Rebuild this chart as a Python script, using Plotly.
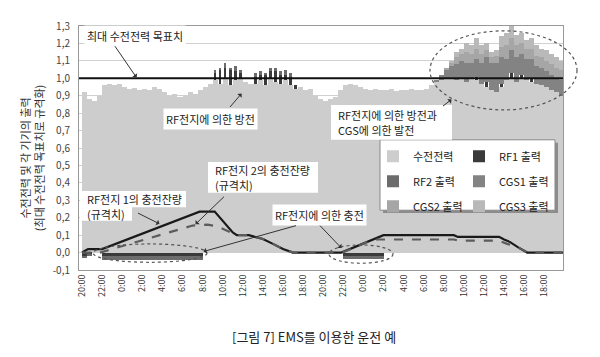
import numpy as np
import plotly.graph_objects as go

# ---------------- data ----------------
# 30-minute slots starting 20:00 on day 0 (96 slots = 48 h)
RECV = [0.92, 0.88, 0.87, 0.90, 0.96, 0.97, 0.96, 0.97,
        0.95, 0.94, 0.945, 0.93, 0.94, 0.935, 0.95, 0.94,
        0.92, 0.90, 0.91, 0.89, 0.90, 0.92, 0.91, 0.93,
        0.95, 0.97, 0.99, 0.97, 1.00, 0.96, 0.99, 1.00,
        0.98, 0.97, 0.97, 0.99, 0.96, 1.00, 0.98, 0.97,
        0.99, 0.96, 0.94, 0.95, 0.93, 0.94, 0.90, 0.88,
        0.87, 0.88, 0.89, 0.93, 0.96, 0.97, 0.96, 0.95,
        0.94, 0.93, 0.94, 0.935, 0.93, 0.94, 0.925, 0.935,
        0.93, 0.94, 0.93, 0.935, 0.94, 0.96, 0.98, 0.99,
        1.00, 1.00, 0.99, 1.00, 0.98, 1.00, 0.99, 0.97,
        0.95, 0.93, 0.92, 0.95, 0.99, 1.00, 0.98, 1.00,
        0.99, 0.98, 0.97, 0.96, 0.95, 0.93, 0.92, 0.90]

RF1 = [-0.02, -0.01, 0, 0, -0.02, -0.02, -0.02, -0.02,
       -0.02, -0.02, -0.02, -0.02, -0.02, -0.02, -0.02, -0.02,
       -0.02, -0.02, -0.02, -0.02, -0.02, -0.02, -0.02, -0.02,
       0, 0, 0.04, 0.08, 0.06, 0.09, 0.05, 0.03,
       0, 0, 0.04, 0.03, 0.06, 0.04, 0.06, 0.05,
       0.03, 0.05, 0.02, 0, 0, 0, 0, 0,
       0, 0, 0, 0, -0.02, -0.02, -0.02, -0.02,
       -0.02, -0.02, -0.02, -0.02, 0, 0, 0, 0,
       0, 0, 0, 0, 0, 0, 0, 0,
       0, 0, 0, 0, 0, 0, 0.02, 0,
       0.03, 0, 0, 0.02, 0, 0.03, 0, 0.02,
       0, 0.02, 0, 0, 0, 0, 0, 0]

RF2 = [-0.01, -0.01, 0, 0, -0.02, -0.02, -0.02, -0.02,
       -0.02, -0.02, -0.02, -0.02, -0.02, -0.02, -0.02, -0.02,
       -0.02, -0.02, -0.02, -0.02, -0.02, -0.02, -0.02, -0.02,
       0, 0, 0.02, 0.01, 0.03, 0.01, 0.03, 0.02,
       0, 0, 0.02, 0.02, 0.01, 0.02, 0.02, 0.02,
       0.03, 0.02, 0, 0, 0, 0, 0, 0,
       0, 0, 0, 0, -0.015, -0.015, -0.015, -0.015,
       -0.015, -0.015, -0.015, -0.015, 0, 0, 0, 0,
       0, 0, 0, 0, 0, 0, 0, 0,
       0, 0, 0, 0, 0, 0, 0, 0,
       0, 0, 0, 0, 0, 0, 0, 0,
       0, 0, 0, 0, 0, 0, 0, 0]

CGS1 = [0.0] * 64 + [
    0, 0, 0, 0, 0, 0, 0.01, 0.03,
    0.05, 0.07, 0.09, 0.10, 0.11, 0.09, 0.10, 0.12,
    0.14, 0.16, 0.17, 0.15, 0.12, 0.13, 0.14, 0.12,
    0.12, 0.11, 0.10, 0.10, 0.09, 0.09, 0.08, 0.09]

CGS2 = [0.0] * 72 + [
    0.01, 0.02, 0.04, 0.04, 0.06, 0.05, 0.06, 0.05,
    0.04, 0.03, 0.04, 0.06, 0.08, 0.07, 0.07, 0.06,
    0.06, 0.06, 0.06, 0.06, 0.06, 0.06, 0.06, 0.06]

CGS3 = [0.0] * 72 + [
    0.00, 0.01, 0.03, 0.03, 0.05, 0.05, 0.06, 0.05,
    0.04, 0.03, 0.03, 0.06, 0.07, 0.07, 0.06, 0.06,
    0.05, 0.06, 0.06, 0.05, 0.06, 0.06, 0.06, 0.05]

# state of charge (normalised), hours from 20:00 day 0
SOC1_H = [0, 0.6, 2.0, 11.7, 13.2, 14.4, 15.0, 15.4, 16.6, 17.2, 18.0, 19.0,
          20.0, 21.0, 25.8, 30.0, 37.0, 37.4, 41.5, 42.0, 42.6, 43.4, 44.3, 47.85]
SOC1_V = [0.0, 0.02, 0.02, 0.235, 0.235, 0.155, 0.115, 0.10, 0.10, 0.09, 0.078, 0.05,
          0.02, 0.0, 0.0, 0.10, 0.10, 0.09, 0.09, 0.075, 0.06, 0.03, 0.0, 0.0]
SOC2_H = [0, 1.8, 11.0, 12.5, 13.5, 14.5, 15.2, 15.4, 16.6, 17.2, 18.0, 19.0,
          20.0, 21.0, 25.9, 29.0, 37.0, 37.5, 41.5, 42.3, 43.4, 44.3, 47.85]
SOC2_V = [0.0, 0.0, 0.155, 0.16, 0.15, 0.125, 0.105, 0.10, 0.10, 0.09, 0.078, 0.05,
          0.02, 0.0, 0.0, 0.075, 0.075, 0.068, 0.068, 0.05, 0.03, 0.0, 0.0]

TARGET = 1.0

X_TICK_LABELS = ["20:00", "22:00", "0:00", "2:00", "4:00", "6:00", "8:00", "10:00",
                 "12:00", "14:00", "16:00", "18:00", "20:00", "22:00", "0:00", "2:00",
                 "4:00", "6:00", "8:00", "10:00", "12:00", "14:00", "16:00", "18:00"]
Y_TICK_VALS = [-0.1, 0.0, 0.1, 0.2, 0.3, 0.4, 0.5, 0.6, 0.7, 0.8, 0.9, 1.0, 1.1, 1.2, 1.3]
Y_TICK_TEXT = ["-0,1", "0,0", "0,1", "0,2", "0,3", "0,4", "0,5", "0,6", "0,7",
               "0,8", "0,9", "1,0", "1,1", "1,2", "1,3"]

SERIES_NAMES = ["수전전력", "RF1 출력", "RF2 출력", "CGS1 출력", "CGS2 출력", "CGS3 출력"]

# ---------------- figure ----------------
SLOT = 0.5
slot_x = np.arange(len(RECV)) * SLOT + SLOT / 2
tick_x = np.arange(len(X_TICK_LABELS)) * 2

# page body has an 8px margin: size the figure so it fits the 600x357 window
OFF = 8
W, H = 600 - 2 * OFF, 357 - 2 * OFF
PLOT_L, PLOT_R, PLOT_T, PLOT_B = 79, 563, 17, 270          # in window pixels
L, R = PLOT_L - OFF, W - (PLOT_R - OFF)
T, B = PLOT_T - OFF, H - (PLOT_B - OFF)
PW, PH = PLOT_R - PLOT_L, PLOT_B - PLOT_T


def PX(x):
    return (x - PLOT_L) / PW


def PY(y):
    return (PLOT_B - y) / PH


FONT = "Noto Sans CJK KR, Noto Sans, sans-serif"
colors = ["#cdcdcd", "#3a3a3a", "#6c6c6c", "#838383", "#a6a6a6", "#b9b9b9"]
series = [RECV, RF1, RF2, CGS1, CGS2, CGS3]
legends = ["legend", "legend2", "legend", "legend2", "legend", "legend2"]

fig = go.Figure()
for i, (name, vals, col, lg) in enumerate(zip(SERIES_NAMES, series, colors, legends)):
    if name.startswith("RF"):
        widths = [SLOT * 0.5 if v > 0 else SLOT for v in vals]
    else:
        widths = SLOT
    fig.add_trace(go.Bar(x=slot_x, y=vals, name=name, width=widths,
                         marker=dict(color=col, line=dict(width=0)),
                         legend=lg, legendgroup=f"g{i}", hoverinfo="skip"))

fig.add_trace(go.Scatter(x=SOC1_H, y=SOC1_V, mode="lines", showlegend=False,
                         line=dict(color="#1a1a1a", width=2.2)))
fig.add_trace(go.Scatter(x=SOC2_H, y=SOC2_V, mode="lines", showlegend=False,
                         line=dict(color="#5c5c5c", width=2.2, dash="dash")))

fig.add_hline(y=TARGET, line=dict(color="#111", width=2))

shapes = []


def rect(x0, x1, y0, y1, fill, line=None):
    shapes.append(dict(type="rect", xref="paper", yref="paper", x0=PX(x0), x1=PX(x1),
                       y0=PY(y1), y1=PY(y0), fillcolor=fill,
                       line=line or dict(width=0), layer="above"))


# dashed ellipses
for (x0, x1, y0, y1) in [(193, 302, 54, 89), (430, 577, 22, 104),
                         (93, 207, 243, 262), (329, 393, 244, 263)]:
    shapes.append(dict(type="circle", xref="paper", yref="paper",
                       x0=PX(x0), x1=PX(x1), y0=PY(y1), y1=PY(y0),
                       line=dict(color="#555", width=1.2, dash="dot"), layer="above"))
# legend box with shadow
rect(383, 558, 138, 211, "#8c8c8c")
rect(380, 555, 135, 208, "white", dict(color="#888", width=1))
# white backgrounds behind the two-line labels
rect(331, 452, 99, 135, "white")
rect(208, 318, 158, 190, "white")
rect(80, 186, 188, 205, "white")
rect(80, 132, 204, 219, "white")

ann = []


def text(t, x, y, size=11, bg=None):
    ann.append(dict(text=t, xref="paper", yref="paper", x=PX(x), y=PY(y),
                    showarrow=False, bgcolor=bg, borderpad=2, align="left",
                    xanchor="left", yanchor="middle",
                    font=dict(family=FONT, size=size, color="#222")))


def arrow(x0, y0, x1, y1):
    # anchored at the tail, head drawn at the (tiny, empty) text end
    ann.append(dict(text=" ", xref="paper", yref="paper", x=PX(x0), y=PY(y0),
                    ax=x1 - x0, ay=y1 - y0, showarrow=True, arrowside="start",
                    arrowhead=2, arrowsize=1, arrowwidth=1, arrowcolor="#333",
                    borderpad=0, font=dict(size=1)))


text("최대 수전전력 목표치", 84, 27, bg="white")
arrow(115, 38, 137, 70)
text("RF전지에 의한 방전", 163, 113, bg="white")
arrow(230, 101, 242, 87)
text("RF전지에 의한 방전과", 335, 109)
text("CGS에 의한 발전", 335, 125)
arrow(443, 100, 452, 93)
text("RF전지 2의 충전잔량", 212, 166)
text("(규격치)", 212, 182)
arrow(224, 194, 195, 222)
text("RF전지 1의 충전잔량", 84, 196)
text("(규격치)", 84, 212)
arrow(138, 211, 160, 222)
text("RF전지에 의한 충전", 272, 213, bg="white")
arrow(296, 224, 203, 250)
arrow(320, 224, 342, 247)

ann.append(dict(text="수전전력 및 각 기기의 출력<br>(최대 수전전력 목표치로 규격화)",
                xref="paper", yref="paper", x=PX(32), y=PY(154), textangle=-90,
                showarrow=False, xanchor="center", yanchor="middle",
                font=dict(family=FONT, size=11, color="#333")))
ann.append(dict(text="[그림 7] EMS를 이용한 운전 예", xref="paper", yref="paper",
                x=PX(314), y=PY(H + OFF + 1), showarrow=False, xanchor="center",
                yanchor="bottom", borderpad=0,
                font=dict(family=FONT, size=13, color="#222")))

leg_common = dict(orientation="v", bgcolor="rgba(0,0,0,0)", borderwidth=0,
                  tracegroupgap=6, yanchor="top", xanchor="left",
                  font=dict(family=FONT, size=11, color="#222"))

fig.update_layout(
    width=W, height=H, margin=dict(l=L, r=R, t=T, b=B),
    paper_bgcolor="white", plot_bgcolor="white",
    barmode="relative", bargap=0,
    font=dict(family=FONT, color="#333"),
    showlegend=True,
    legend=dict(x=PX(373), y=PY(137), **leg_common),
    legend2=dict(x=PX(459), y=PY(137), **leg_common),
    xaxis=dict(range=[-0.3, 47.86], tickmode="array", tickvals=tick_x,
               ticktext=X_TICK_LABELS, tickangle=-90, showgrid=False, zeroline=False,
               showline=True, linecolor="#999", mirror=True, ticks="",
               tickfont=dict(family=FONT, size=9, color="#333")),
    yaxis=dict(range=[-0.1, 1.3], tickmode="array", tickvals=Y_TICK_VALS,
               ticktext=Y_TICK_TEXT, showgrid=True, gridcolor="#d0d0d0", gridwidth=1,
               zeroline=False, showline=True, linecolor="#999", mirror=True,
               ticklabelstandoff=6,
               tickfont=dict(family=FONT, size=10, color="#444")),
    shapes=shapes, annotations=ann,
)

fig.write_html("out.html")
